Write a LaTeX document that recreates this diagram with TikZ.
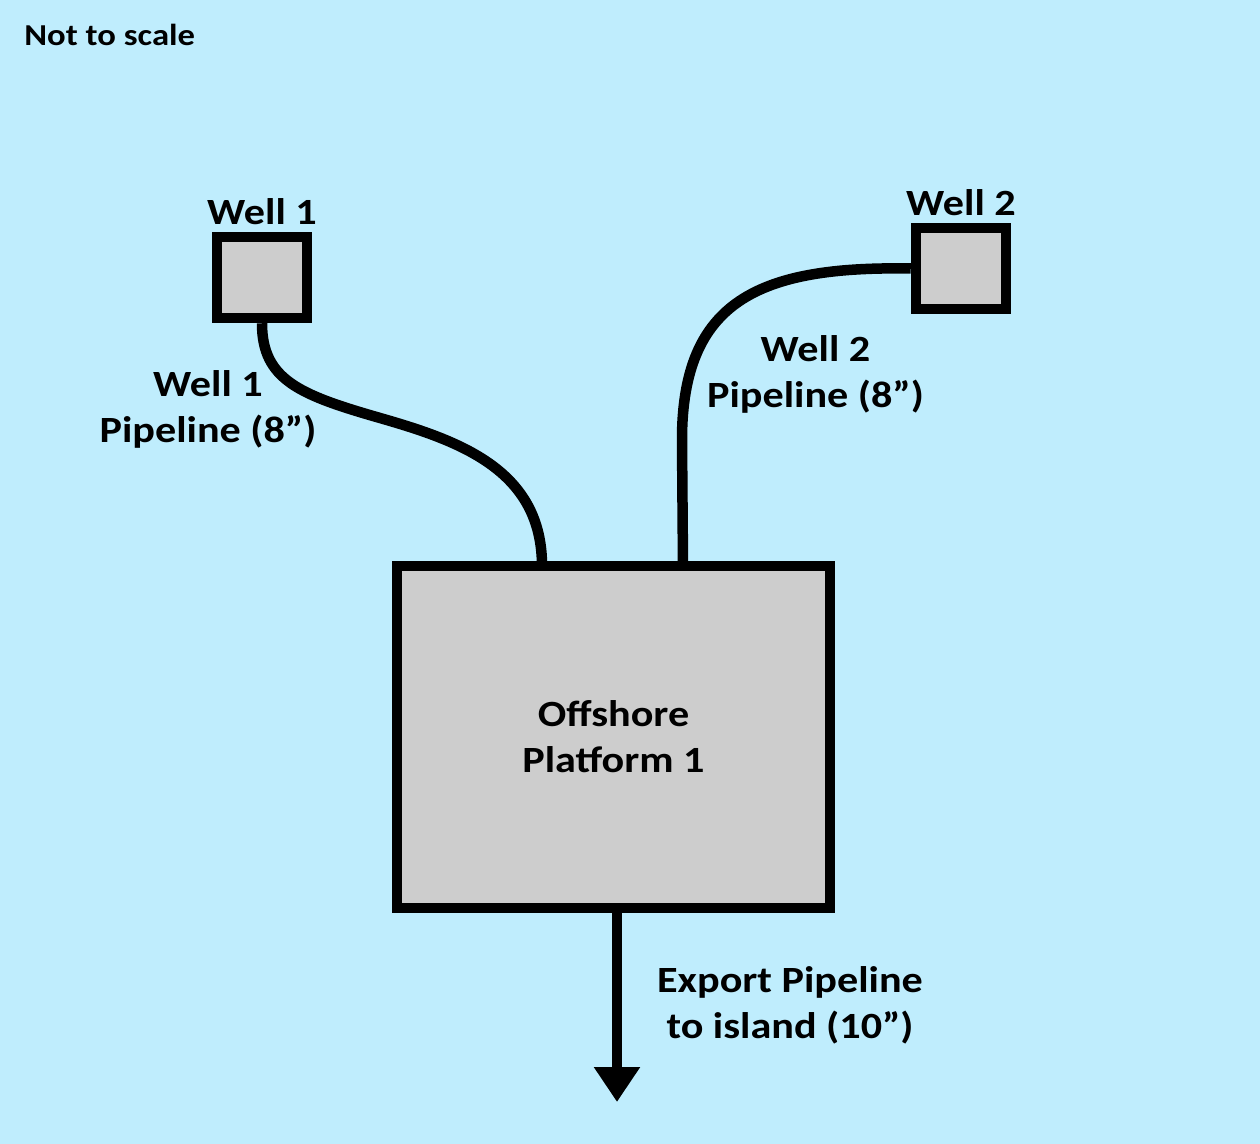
\documentclass[tikz,border=0pt]{standalone}
\usepackage{fontspec}
\setmainfont{Carlito}[FakeStretch=1.14]
\usetikzlibrary{positioning,arrows.meta}
\definecolor{sea}{RGB}{191,237,253}
\definecolor{boxgrey}{RGB}{205,205,205}
\begin{document}
\begin{tikzpicture}[x=0.5pt, y=-0.5pt,
    well node/.style={draw, fill=boxgrey, line width=5.25pt, minimum width=45pt, minimum height=40.5pt, inner sep=0pt},
    platform node/.style={draw, fill=boxgrey, line width=5.25pt, minimum width=216.5pt, minimum height=171pt, align=center},
    pipe/.style={line width=5.25pt}]
        \tikzstyle{every node}=[font=\bfseries\fontsize{18.5}{23}\selectfont]

          \fill[sea] (0,0) rectangle (1260,1144);
          \useasboundingbox (0,0) rectangle (1260,1144);

          \node[well node] (well1) at (262,277.5) {};
          \node[well node] (well2) at (961,268.5) {};
          \node[platform node] (platform) at (613.5,737) {Offshore\\Platform 1};
          \coordinate (in1) at (542,566);
          \coordinate (in2) at (683,566);
          \coordinate (tip) at (617,1102);

          \node[] (well1label) [above=0pt of well1] {Well 1};
          \node[] (well2label) [above=0pt of well2] {Well 2};
          \node[align=center] (pipe1label) at (208,409) {Well 1\\Pipeline (8”)};
          \node[align=center] (pipe2label) at (815.5,374) {Well 2\\Pipeline (8”)};
          \node[align=center] (exportlabel) at (790,1005) {Export Pipeline\\to island (10”)};
          \node[anchor=base west, inner sep=0pt, font=\bfseries\fontsize{15.2}{18}\selectfont] (note) at (24,46) {Not to scale};

          \draw[pipe] (well1.south) .. controls (262,380) and (300,395) .. (380,418)
                                    .. controls (460,441) and (542,470) .. (in1);
          \draw[pipe] (well2.west) .. controls (760,266) and (682,300) .. (682,440) -- (in2);
          \draw[pipe, -{Triangle[width=22pt,length=17.5pt]}] (platform.south -| tip) -- (tip);

\end{tikzpicture}
\end{document}
